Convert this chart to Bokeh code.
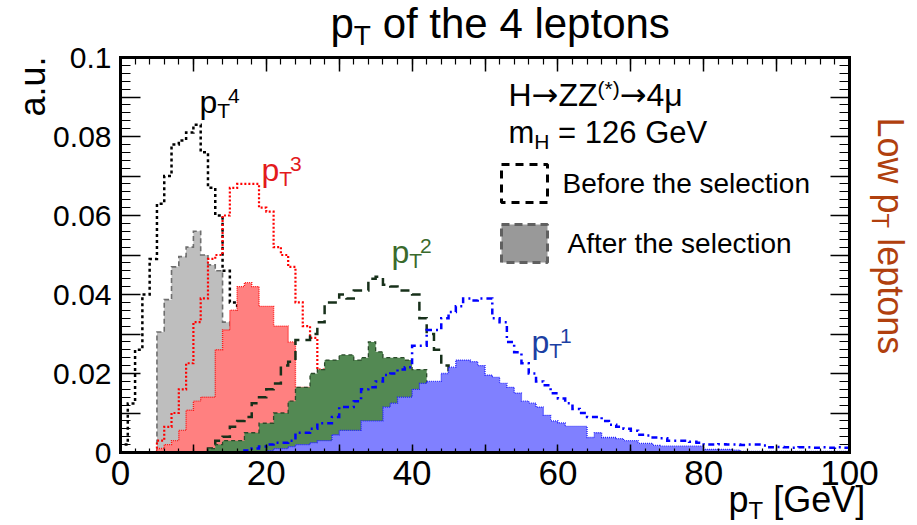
import math
from bokeh.plotting import figure
from bokeh.models import Label, LinearAxis, FixedTicker, Range1d, BoxAnnotation
from bokeh.embed import file_html
from bokeh.resources import INLINE

# ---------------- data (1 GeV bins, first bin low edge given) ----------------
pt4_before_start = 0
pt4_before = [0.002, 0.0124, 0.026, 0.040, 0.049, 0.063, 0.070, 0.078, 0.079, 0.081,
              0.083, 0.076, 0.067, 0.060, 0.046, 0.038, 0.033, 0.027, 0.021, 0.016,
              0.011, 0.008, 0.005, 0.003, 0.002, 0.001]
pt4_after_start = 5
pt4_after = [0.0305, 0.0387, 0.047, 0.0496, 0.052, 0.056, 0.050, 0.0475, 0.046, 0.033,
             0.027, 0.021, 0.016, 0.012, 0.008, 0.005, 0.003, 0.002, 0.001]

pt3_before_start = 5
pt3_before = [0.003, 0.0065, 0.010, 0.016, 0.0226, 0.033, 0.039, 0.049, 0.050, 0.060,
              0.067, 0.068, 0.068, 0.068, 0.062, 0.061, 0.052, 0.050, 0.047, 0.038,
              0.032, 0.029, 0.021, 0.016, 0.012, 0.009, 0.006, 0.004, 0.003, 0.002, 0.001]
pt3_after_start = 5
pt3_after = [0.001, 0.002, 0.003, 0.0056, 0.0107, 0.013, 0.014, 0.014, 0.026, 0.031,
             0.036, 0.042, 0.043, 0.042, 0.037, 0.037, 0.032, 0.032, 0.028, 0.0165,
             0.0165, 0.012, 0.009, 0.006, 0.004, 0.003, 0.002, 0.001]

pt2_before_start = 12
pt2_before = [0.001, 0.003, 0.004, 0.0065, 0.008, 0.009, 0.0125, 0.014, 0.016, 0.0175,
              0.022, 0.023, 0.0285, 0.0285, 0.030, 0.033, 0.038, 0.038, 0.040, 0.039,
              0.041, 0.041, 0.044, 0.0445, 0.0425, 0.042, 0.041, 0.041, 0.040, 0.034,
              0.030, 0.026, 0.022, 0.018, 0.014, 0.010, 0.007, 0.005, 0.003, 0.002, 0.001]
pt2_after_start = 12
pt2_after = [0.001, 0.002, 0.003, 0.003, 0.003, 0.005, 0.005, 0.0074, 0.0074, 0.010,
             0.010, 0.013, 0.0165, 0.0165, 0.020, 0.021, 0.0234, 0.0234, 0.0247, 0.0247,
             0.0234, 0.024, 0.028, 0.0255, 0.024, 0.024, 0.024, 0.0234, 0.021, 0.021,
             0.0175, 0.012, 0.009, 0.006, 0.004, 0.003, 0.002, 0.001]

pt1_before_start = 17
pt1_before = [0.0005, 0.001, 0.0015, 0.002, 0.0025, 0.0025, 0.003, 0.005, 0.005, 0.006,
              0.0074, 0.0074, 0.009, 0.0115, 0.0115, 0.013, 0.016, 0.0165, 0.018, 0.0196,
              0.020, 0.021, 0.0216, 0.027, 0.027, 0.031, 0.031, 0.034, 0.0356, 0.037,
              0.039, 0.0385, 0.039, 0.039, 0.034, 0.033, 0.028, 0.0254, 0.0226, 0.020,
              0.018, 0.017, 0.015, 0.0137, 0.0125, 0.011, 0.010, 0.009, 0.009, 0.008,
              0.007, 0.0065, 0.006, 0.0055, 0.0045, 0.0043, 0.0038, 0.0036, 0.003, 0.003,
              0.003, 0.0027, 0.0025, 0.002, 0.002, 0.0021, 0.002, 0.002, 0.0019, 0.002,
              0.002, 0.0018, 0.0013, 0.0014, 0.0013, 0.0012, 0.0013, 0.0013, 0.0012, 0.0013,
              0.0012, 0.0013, 0.0012]
pt1_after_start = 20
pt1_after = [0.0005, 0.001, 0.001, 0.0015, 0.002, 0.002, 0.0025, 0.003, 0.003, 0.0045,
             0.0056, 0.0056, 0.0056, 0.008, 0.008, 0.008, 0.0115, 0.0125, 0.014, 0.014,
             0.016, 0.0175, 0.018, 0.018, 0.020, 0.0216, 0.0234, 0.0234, 0.023, 0.022,
             0.0196, 0.019, 0.0175, 0.0165, 0.015, 0.013, 0.0125, 0.0115, 0.0094, 0.008,
             0.0075, 0.0066, 0.0066, 0.0066, 0.0038, 0.005, 0.0038, 0.0038, 0.0035, 0.003,
             0.003, 0.0023, 0.0023, 0.0018, 0.0016, 0.0016, 0.0016, 0.0016, 0.0016, 0.0016,
             0.0008, 0.0008, 0.0008, 0.0008, 0.0006, 0.0003, 0.0003, 0.0003, 0.0003, 0.0003,
             0.0003, 0.0003, 0.0003, 0.0003, 0.0003, 0.0003, 0.0003, 0.0003, 0.0003, 0.0003]

x_major_ticks = [0, 10, 20, 30, 40, 50, 60, 70, 80, 90, 100]
x_tick_labels = ["0", "", "20", "", "40", "", "60", "", "80", "", "100"]
x_minor_ticks = list(range(0, 101, 2))
y_major_ticks = [0.0, 0.01, 0.02, 0.03, 0.04, 0.05, 0.06, 0.07, 0.08, 0.09, 0.1]
y_tick_labels = ["0", "", "0.02", "", "0.04", "", "0.06", "", "0.08", "", "0.1"]
y_minor_ticks = [round(i * 0.002, 4) for i in range(0, 51)]

# ---------------- layout ----------------
W, H = 917, 525
FL, FR, FT, FB = 120, 849, 57, 452      # pixel box of the 0..100 x 0..0.1 data area
X0, X1, Y0, Y1 = 0.0, 100.0, 0.0, 0.1
FONT = "Liberation Sans"
ARROW_FONT = "DejaVu Sans"
BASE_FIX = 0.35     # measured baseline offset of rendered labels (fraction of size)

def dx(px):
    return X0 + (px - FL) * (X1 - X0) / (FR - FL)

def dy(py):
    return Y0 + (FB - py) * (Y1 - Y0) / (FB - FT)

# the plotting frame covers the whole canvas; axes are pinned to the data box
p = figure(width=W, height=H, x_range=Range1d(dx(0), dx(W)), y_range=Range1d(dy(H), dy(0)),
           output_backend="svg", toolbar_location=None, title=None,
           min_border_left=0, min_border_right=0, min_border_top=0, min_border_bottom=0,
           x_axis_location="below", y_axis_location="left")
p.grid.visible = False
p.outline_line_color = None
p.background_fill_color = "white"
p.border_fill_color = "white"

def style_axis(ax, ticks, minor, tin, mtin, bounds, loc, labels=None, fsize="30px", standoff=10):
    ax.ticker = FixedTicker(ticks=ticks, minor_ticks=minor)
    ax.fixed_location = loc
    ax.bounds = bounds
    ax.axis_line_width = 3
    ax.axis_line_color = "black"
    ax.axis_line_cap = "square"
    ax.major_tick_in = tin
    ax.major_tick_out = 0
    ax.minor_tick_in = mtin
    ax.minor_tick_out = 0
    ax.major_tick_line_width = 1.5
    ax.minor_tick_line_width = 1.2
    ax.major_tick_line_color = "black"
    ax.minor_tick_line_color = "black"
    if labels is None:
        labels = [""] * len(ticks)
    ax.major_label_overrides = {t: l for t, l in zip(ticks, labels)}
    ax.major_label_text_font = FONT
    ax.major_label_text_font_size = fsize
    ax.major_label_text_color = "black"
    ax.major_label_standoff = standoff

style_axis(p.xaxis[0], x_major_ticks, x_minor_ticks, 8, 4, (X0, X1), Y0,
           x_tick_labels, "35px", 8)
style_axis(p.yaxis[0], y_major_ticks, y_minor_ticks, 20, 10, (Y0, Y1), X0,
           y_tick_labels, "30px", 9)
top_ax = LinearAxis()
style_axis(top_ax, x_major_ticks, x_minor_ticks, 14, 7, (X0, X1), Y1, None, "1px", 0)
p.add_layout(top_ax, "above")
right_ax = LinearAxis()
style_axis(right_ax, y_major_ticks, y_minor_ticks, 19, 10, (Y0, Y1), X1, None, "1px", 0)
p.add_layout(right_ax, "right")

# ---------------- histograms ----------------
def step_xy(start, vals):
    xs, ys = [start], [0.0]
    for i, v in enumerate(vals):
        xs += [start + i, start + i + 1]
        ys += [v, v]
    xs.append(start + len(vals))
    ys.append(0.0)
    return xs, ys

def outline(start, vals, color, width, dash):
    xs, ys = step_xy(start, vals)
    p.line(xs, ys, line_color=color, line_width=width, line_dash=dash,
           line_join="miter", line_cap="butt")

def filled(start, vals, fill, color, width, dash):
    xs, ys = step_xy(start, vals)
    p.patch(xs, ys, fill_color=fill, line_color=None)
    p.line(xs, ys, line_color=color, line_width=width, line_dash=dash,
           line_join="miter", line_cap="butt")

outline(pt4_before_start, pt4_before, "black", 2.5, "3 3")
filled(pt4_after_start, pt4_after, "#bebebe", "#6e6e6e", 1.6, "5 3")
outline(pt3_before_start, pt3_before, "#ff0000", 2.2, "2 2")
filled(pt3_after_start, pt3_after, "#ff8080", "#ff1a1a", 1.4, "1 1")
outline(pt2_before_start, pt2_before, "#17301a", 2.5, "9 6")
filled(pt2_after_start, pt2_after, "#538953", "#2a4a2a", 1.3, "4 3")
outline(pt1_before_start, pt1_before, "#0000ff", 2.5, "6 4 2 4")
filled(pt1_after_start, pt1_after, "#8080ff", "#2020ff", 1.3, "1 1")

# ---------------- text helpers ----------------
AW = {" ": 278, "a": 556, "c": 500, "e": 556, "f": 278, "h": 556, "i": 222, "l": 222,
      "m": 833, "n": 556, "o": 556, "p": 556, "r": 333, "s": 500, "t": 278, "u": 556,
      "w": 722, "A": 667, "B": 667, "G": 778, "H": 722, "L": 556, "T": 611, "V": 667,
      "Z": 611, "(": 333, ")": 333, "*": 389, "[": 278, "]": 278, "=": 584, ".": 278,
      "\u03bc": 576}

def tw(s, size, font=FONT):
    if font == ARROW_FONT:
        return 0.838 * size * len(s)
    return sum(AW.get(c, 556) for c in s) / 1000.0 * size

def label(px, py, text, size, color="black", align="left", angle=0.0, font=FONT):
    # compensate the measured baseline offset along the glyph "down" direction
    px -= BASE_FIX * size * math.sin(angle)
    py -= BASE_FIX * size * math.cos(angle)
    p.add_layout(Label(x=dx(px), y=dy(py), text=text, text_font=font,
                       text_font_size=f"{size}px", text_color=color,
                       text_align=align, text_baseline="alphabetic",
                       angle=angle, angle_units="rad"))

def rich(px, py, parts, color="black", angle=0.0):
    # parts: (text, size, shift_down_px[, font])
    ca, sa = math.cos(angle), math.sin(angle)
    adv = 0.0
    for part in parts:
        text, size, down = part[:3]
        font = part[3] if len(part) > 3 else FONT
        stripped = text.lstrip(" ")
        adv += tw(" " * (len(text) - len(stripped)), size)
        x = px + adv * ca + down * sa
        y = py - adv * sa + down * ca
        label(x, y, stripped, size, color, "left", angle, font)
        adv += tw(stripped, size, font)

# title
rich(330, 38, [("p", 42, 0), ("T", 28, 7), (" of the 4 leptons", 42, 0)])
# x axis title
rich(728, 512, [("p", 36, 0), ("T", 24, 6), (" [GeV]", 36, 0)])
# y axis title
label(45, 56, "a.u.", 36, "black", "right", math.pi / 2)
# right side text
rich(877, 117, [("Low p", 36, 0), ("T", 24, 5), (" leptons", 36, 0)],
     color="#b0400e", angle=-math.pi / 2)

# curve labels
def pt_label(px, py, sup, color):
    rich(px, py, [("p", 32, 0), ("T", 21, 4)], color=color)
    label(px + tw("p", 32) + tw("T", 21) - 2, py - 10, sup, 21, color)

pt_label(199, 113, "4", "black")
pt_label(261, 181, "3", "#e31a1c")
pt_label(391, 263, "2", "#3a6a2c")
pt_label(531, 353, "1", "#1c3fa3")

# legend header
rich(508, 106, [("H", 32, 0), ("\u2192", 32, 0, ARROW_FONT), ("ZZ", 32, 0),
                ("(*)", 21, -11), ("\u2192", 32, 0, ARROW_FONT), ("4\u03bc", 32, 0)])
rich(508, 143, [("m", 31, 0), ("H", 21, 5), (" = 126 GeV", 31, 0)])

# legend boxes
p.add_layout(BoxAnnotation(left=dx(501), right=dx(547), top=dy(164), bottom=dy(202),
                           fill_color=None, fill_alpha=0, line_color="black",
                           line_alpha=1, line_width=3, line_dash="8 6"))
p.add_layout(BoxAnnotation(left=dx(501), right=dx(547), top=dy(224), bottom=dy(262),
                           fill_color="#999999", fill_alpha=1, line_color="#606060",
                           line_alpha=1, line_width=3, line_dash="8 5"))
label(562, 193, "Before the selection", 28)
label(567, 253, "After the selection", 28)

open("out.html", "w").write(file_html(p, INLINE))
